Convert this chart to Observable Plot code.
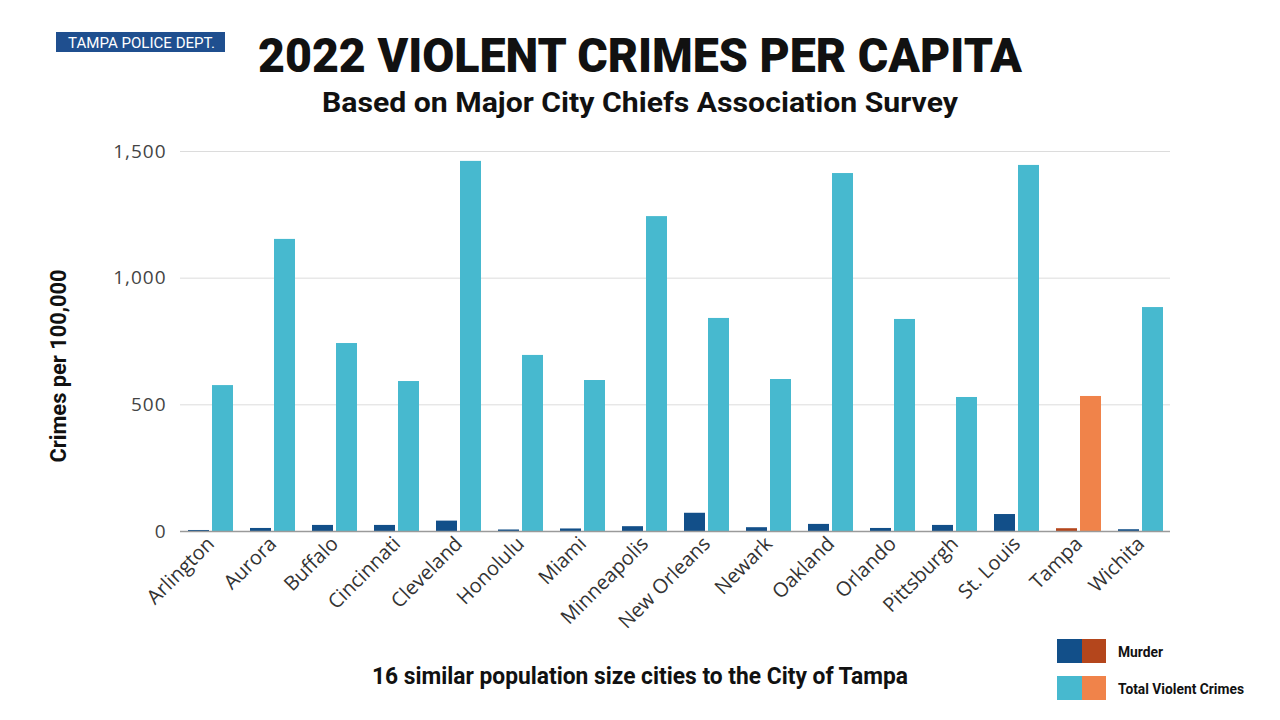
<!DOCTYPE html>
<html><head><meta charset="utf-8">
<script src="https://cdn.jsdelivr.net/npm/d3@7"></script>
<script src="https://cdn.jsdelivr.net/npm/@observablehq/plot@0.6"></script>
<style>
html,body{margin:0;padding:0;background:#fff;}
#wrap{position:relative;width:1280px;height:720px;overflow:hidden;background:#fff;}
#wrap svg{position:absolute;left:0;top:0;}
.cond{font-family:Roboto,"Liberation Sans",sans-serif;font-weight:700;fill:#111;}
</style></head>
<body><div id="wrap"></div>
<script>
const cities = ["Arlington","Aurora","Buffalo","Cincinnati","Cleveland","Honolulu","Miami","Minneapolis","New Orleans","Newark","Oakland","Orlando","Pittsburgh","St. Louis","Tampa","Wichita"];
const murder = [4,12,24,24,41,6,10,19,72,15,28,12,24,67,11,7];
const totalViolent = [576,1153,742,592,1461,695,596,1243,841,600,1413,837,529,1445,533,884];
const yTicks = [0,500,1000,1500];
const highlight = "Tampa";
const legendLabels = ["Murder","Total Violent Crimes"];
const colors = {murder:"#124f89", total:"#47b9cf", murderHi:"#b4461c", totalHi:"#f0834a"};

const rows = cities.map((c,i)=>({city:c, murder:murder[i], total:totalViolent[i]}));

const chart = Plot.plot({
  width:1280, height:720,
  marginTop:151, marginBottom:189, marginLeft:181, marginRight:110,
  style:{fontFamily:"'Open Sans','Liberation Sans',sans-serif", background:"transparent"},
  x:{type:"band", domain:cities, paddingInner:0.27, paddingOuter:0, label:null},
  y:{domain:[0,1500], label:null},
  marks:[
    Plot.ruleY(yTicks.filter(d=>d>0), {stroke:"#dcdcdc", strokeWidth:1, insetLeft:-1}),
    Plot.barY(rows, {x:"city", y:"total", insetLeft:24, insetRight:0,
      fill:d=>d.city===highlight?colors.totalHi:colors.total}),
    Plot.barY(rows, {x:"city", y:"murder", insetLeft:0, insetRight:24,
      fill:d=>d.city===highlight?colors.murderHi:colors.murder}),
    Plot.ruleY([0], {stroke:"#9a9a9a", strokeWidth:1.5, insetLeft:-1}),
    Plot.axisY({ticks:yTicks, tickSize:0, tickPadding:15, tickFormat:d3.format(","), fontSize:19, fill:"#444"}),
    Plot.axisX({tickSize:0, tickPadding:9, tickRotate:-45, fontSize:20, fill:"#333"})
  ]
});
const wrap = document.getElementById("wrap");
wrap.appendChild(chart);
chart.querySelectorAll("[aria-label='y-axis tick label'] text").forEach(t=>t.setAttribute("letter-spacing","1"));

// overlay with titles and legend
const ns = "http://www.w3.org/2000/svg";
const ov = document.createElementNS(ns,"svg");
ov.setAttribute("width",1280); ov.setAttribute("height",720);
ov.style.pointerEvents="none";
wrap.appendChild(ov);
function el(tag, attrs, text){
  const e = document.createElementNS(ns, tag);
  for (const k in attrs) e.setAttribute(k, attrs[k]);
  if (text!==undefined) e.textContent = text;
  ov.appendChild(e); return e;
}
function txt(s, x, y, size, len, anchor, extra={}){
  return el("text", Object.assign({x, y, "font-size":size, "text-anchor":anchor, class:"cond",
    textLength:len, lengthAdjust:"spacingAndGlyphs"}, extra), s);
}
el("rect",{x:56,y:32,width:169,height:20,fill:"#1f4f8f"});
txt("TAMPA POLICE DEPT.", 141.5, 48, 14, 147, "middle", {style:"font-weight:400;fill:#fff"});
txt("2022 VIOLENT CRIMES PER CAPITA", 640, 72, 49, 764, "middle", {style:"font-weight:900"});
txt("Based on Major City Chiefs Association Survey", 640, 112, 28, 636, "middle");
txt("16 similar population size cities to the City of Tampa", 640, 684, 23, 536, "middle");
txt("Crimes per 100,000", 0, 0, 22, 193, "middle", {transform:"translate(66,366) rotate(-90)"});
const lgY = [639, 676];
const lgC = [[colors.murder, colors.murderHi],[colors.total, colors.totalHi]];
legendLabels.forEach((t,i)=>{
  el("rect",{x:1057,y:lgY[i],width:25,height:24,fill:lgC[i][0]});
  el("rect",{x:1082,y:lgY[i],width:24,height:24,fill:lgC[i][1]});
  txt(t, 1118, lgY[i]+18, 15, i===0?45:126, "start");
});
</script></body></html>
